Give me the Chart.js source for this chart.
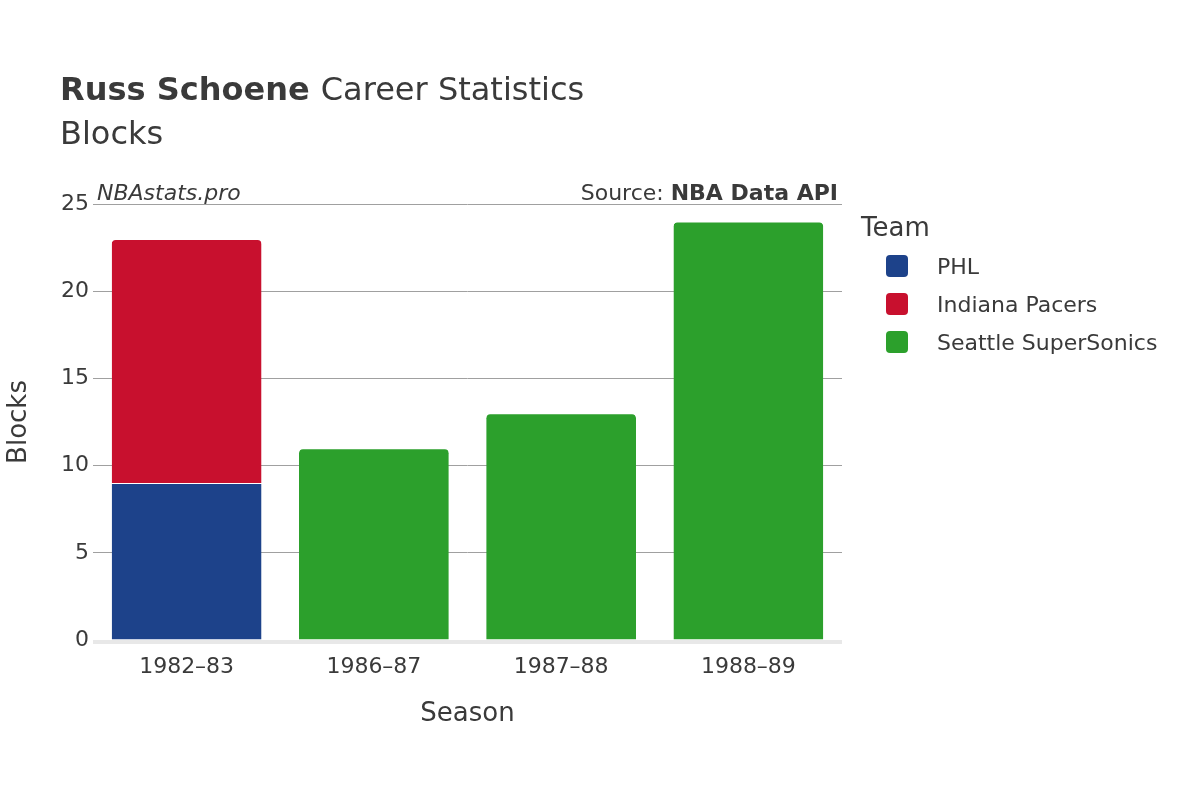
<!DOCTYPE html>
<html>
<head>
<meta charset="utf-8">
<script src="https://cdn.jsdelivr.net/npm/chart.js@4"></script>
<style>
  body { margin: 0; background: #fff; }
  #wrap { width: 1200px; height: 800px; }
</style>
</head>
<body>
<div id="wrap"><canvas id="chart" width="1200" height="800"></canvas></div>
<script>
// data
const seasons = ['1982–83', '1986–87', '1987–88', '1988–89'];
const phl = [9, null, null, null];
const pacers = [14, null, null, null];
const sonics = [null, 11, 13, 24];
const yTicks = [0, 5, 10, 15, 20, 25];

const FONT = '"DejaVu Sans", sans-serif';
const TEXT = '#3a3a3a';

// title, captions, axis titles and legend drawn straight onto the canvas
const decorations = {
    id: 'decorations',
    afterDraw(chart) {
        const c = chart.ctx;
        const area = chart.chartArea;
        c.save();
        c.fillStyle = TEXT;
        c.textBaseline = 'alphabetic';
        c.textAlign = 'left';
        c.font = 'bold 32px ' + FONT;
        c.fillText('Russ Schoene', 60, 100);
        const w = c.measureText('Russ Schoene ').width;
        c.font = '32px ' + FONT;
        c.fillText('Career Statistics', 60 + w, 100);
        c.fillText('Blocks', 60, 144);

        c.font = 'italic 22px ' + FONT;
        c.fillText('NBAstats.pro', 97, 200);
        c.textAlign = 'right';
        c.font = 'bold 22px ' + FONT;
        c.fillText('NBA Data API', 838, 200);
        const sw = c.measureText('NBA Data API').width;
        c.font = '22px ' + FONT;
        c.fillText('Source: ', 838 - sw, 200);

        // axis titles
        c.textAlign = 'center';
        c.font = '26px ' + FONT;
        c.fillText('Season', (area.left + area.right) / 2, 721);
        c.save();
        c.translate(26, (area.top + area.bottom) / 2);
        c.rotate(-Math.PI / 2);
        c.fillText('Blocks', 0, 0);
        c.restore();

        // zero line
        c.fillStyle = '#e8e8e8';
        c.fillRect(area.left, area.bottom, area.right - area.left, 4);

        // legend
        c.textAlign = 'left';
        c.fillStyle = TEXT;
        c.font = '26px ' + FONT;
        c.fillText('Team', 861, 236);
        c.font = '22px ' + FONT;
        chart.data.datasets.forEach((ds, i) => {
            const y = 266 + i * 38;
            c.fillStyle = ds.backgroundColor;
            c.beginPath();
            c.roundRect(886, y - 11, 22, 22, 4);
            c.fill();
            c.fillStyle = TEXT;
            c.fillText(ds.label, 937, y + 8);
        });
        c.restore();
    }
};

function topRadius(ctx) {
    const ds = ctx.chart.data.datasets;
    // only the top piece of each stack gets rounded corners
    for (let j = ds.length - 1; j > ctx.datasetIndex; j--) {
        if (ds[j].data[ctx.dataIndex] != null) return 0;
    }
    return { topLeft: 5, topRight: 5, bottomLeft: 0, bottomRight: 0 };
}

new Chart(document.getElementById('chart'), {
    type: 'bar',
    data: {
        labels: seasons,
        datasets: [
            { label: 'PHL', data: phl, backgroundColor: '#1d428a' },
            { label: 'Indiana Pacers', data: pacers, backgroundColor: '#c8102e' },
            { label: 'Seattle SuperSonics', data: sonics, backgroundColor: '#2ca02c' }
        ].map(d => Object.assign(d, {
            borderColor: '#ffffff',
            borderWidth: { top: 1, left: 0, right: 0, bottom: 0 },
            borderSkipped: false,
            borderRadius: topRadius,
            categoryPercentage: 0.8,
            barPercentage: 1
        }))
    },
    options: {
        responsive: false,
        animation: false,
        layout: { padding: { left: 0, top: 204, right: 358, bottom: 0 } },
        plugins: { legend: { display: false }, tooltip: { enabled: false } },
        scales: {
            x: {
                stacked: true,
                grid: { display: false },
                border: { display: false },
                ticks: { color: TEXT, font: { family: FONT, size: 22 }, padding: 6 },
                afterFit(s) { s.height = 160; }
            },
            y: {
                stacked: true,
                min: 0, max: 25,
                afterBuildTicks(s) { s.ticks = yTicks.map(v => ({ value: v })); },
                grid: { color: '#a0a0a0', lineWidth: 1, drawTicks: false },
                border: { display: false },
                ticks: { color: TEXT, font: { family: FONT, size: 22 }, padding: 4 },
                afterFit(s) { s.width = 93; }
            }
        }
    },
    plugins: [decorations]
});
</script>
</body>
</html>
